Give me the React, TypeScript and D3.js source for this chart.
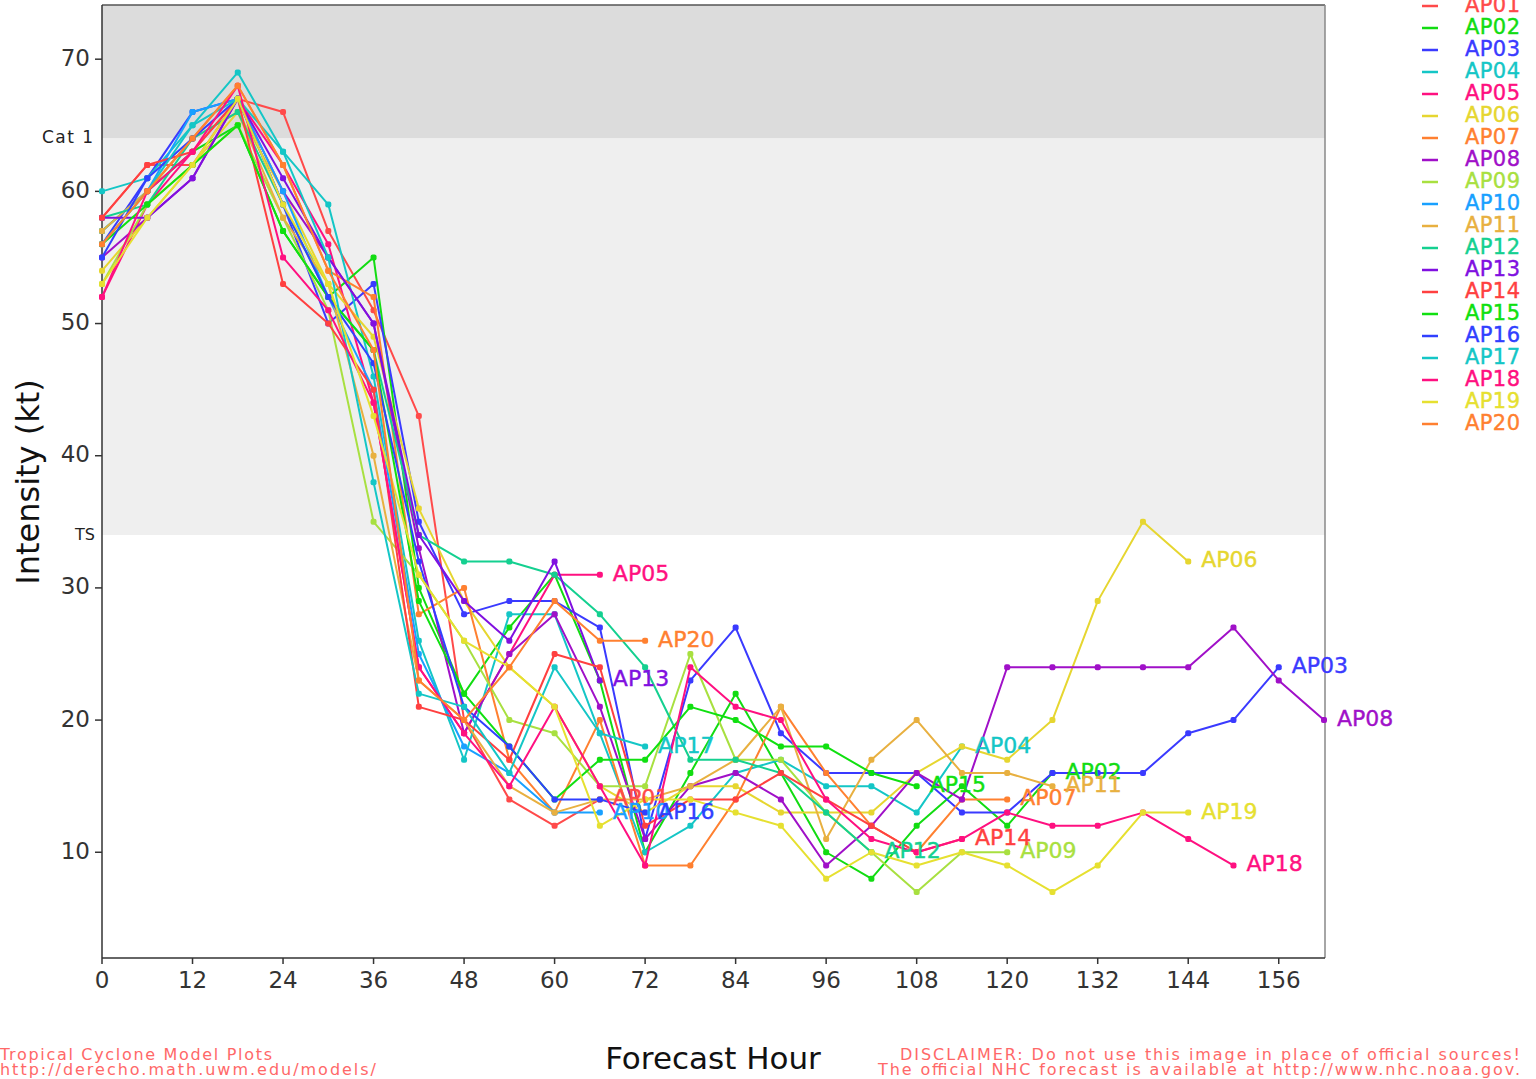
import React from 'react';
import * as d3 from 'd3';

const hoursTicks = [0, 12, 24, 36, 48, 60, 72, 84, 96, 108, 120, 132, 144, 156];
const intensityTicks = [10, 20, 30, 40, 50, 60, 70];

const modelNames = ['AP01', 'AP02', 'AP03', 'AP04', 'AP05', 'AP06', 'AP07', 'AP08', 'AP09', 'AP10',
  'AP11', 'AP12', 'AP13', 'AP14', 'AP15', 'AP16', 'AP17', 'AP18', 'AP19', 'AP20'];

const modelColors = ['#ff4a4a', '#12dc12', '#3a3aff', '#14c6c6', '#ff1080', '#e6d630', '#ff8030', '#a010c8',
  '#a8e040', '#18a0ff', '#e8b040', '#14d090', '#8010e0', '#ff4040', '#10e010', '#3040ff', '#14c6c6',
  '#ff1080', '#e6e030', '#ff8030'];

// intensity (kt) every 6 h starting at hour 0
const ap01 = [58, 62, 62, 67, 66, 57, 51, 43, 20, 14, 12, 14];
const ap02 = [57, 60, 63, 65, 57, 52, 55, 30, 22, 27, 31, 23, 10, 16, 22, 16, 10, 8, 12, 15, 12, 16];
const ap03 = [56, 61, 66, 67, 59, 50, 53, 35, 28, 29, 29, 27, 11, 23, 27, 19, 16, 16, 16, 13, 13, 16, 16, 16, 19, 20, 24];
const ap04 = [60, 61, 65, 69, 63, 59, 46, 26, 17, 28, 28, 19, 10, 12, 16, 17, 15, 15, 13, 18];
const ap05 = [52, 59, 63, 67, 62, 56, 44, 24, 19, 25, 31, 31];
const ap06 = [54, 58, 62, 66, 60, 53, 49, 36, 29, 24, 21, 15, 13, 15, 15, 13, 13, 13, 16, 18, 17, 20, 29, 35, 32];
const ap07 = [56, 60, 64, 68, 62, 54, 52, 28, 30, 17, 13, 20, 9, 9, 14, 21, 16, 12, 10, 14, 14];
const ap08 = [55, 58, 61, 67, 60, 55, 50, 33, 19, 25, 28, 21, 11, 15, 16, 14, 9, 12, 16, 14, 24, 24, 24, 24, 24, 27, 23, 20];
const ap09 = [53, 59, 62, 65, 58, 51, 35, 31, 26, 20, 19, 15, 15, 25, 17, 17, 13, 10, 7, 10, 10];
const ap10 = [57, 60, 66, 67, 60, 52, 45, 25, 18, 16, 13, 13];
const ap11 = [57, 60, 64, 66, 58, 53, 40, 23, 20, 15, 13, 14, 14, 15, 17, 21, 11, 17, 20, 16, 16, 15];
const ap12 = [58, 59, 64, 66, 59, 52, 48, 34, 32, 32, 31, 28, 24, 17, 17, 16, 13, 10];
const ap13 = [58, 58, 61, 67, 61, 55, 50, 34, 29, 26, 32, 23];
const ap14 = [58, 62, 63, 67, 53, 50, 45, 21, 20, 17, 25, 24, 12, 14, 14, 16, 14, 12, 10, 11];
const ap15 = [56, 59, 62, 65, 57, 52, 48, 29, 22, 18, 14, 17, 17, 21, 20, 18, 18, 16, 15];
const ap16 = [55, 61, 64, 67, 59, 52, 47, 32, 21, 18, 14, 14, 13];
const ap17 = [56, 60, 65, 67, 63, 55, 38, 22, 21, 16, 24, 19, 18];
const ap18 = [52, 60, 63, 68, 55, 51, 44, 24, 19, 15, 21, 15, 9, 24, 21, 20, 14, 11, 10, 11, 13, 12, 12, 13, 11, 9];
const ap19 = [53, 58, 62, 67, 59, 53, 43, 31, 26, 24, 21, 12, 14, 14, 13, 12, 8, 10, 9, 10, 9, 7, 9, 13, 13];
const ap20 = [56, 60, 64, 68, 62, 54, 48, 23, 20, 24, 29, 26, 26];

const modelValues = [ap01, ap02, ap03, ap04, ap05, ap06, ap07, ap08, ap09, ap10,
  ap11, ap12, ap13, ap14, ap15, ap16, ap17, ap18, ap19, ap20];

const W = 1536;
const H = 1079;
const plot = { left: 102, right: 1325, top: 5, bottom: 958 };
const font = "'DejaVu Sans', sans-serif";

export default function App() {
  const x = d3.scaleLinear().domain([0, 162]).range([plot.left, plot.right - 1]);
  const y = d3.scaleLinear().domain([2, 74.1]).range([plot.bottom, plot.top]);
  const line = d3.line<[number, number]>().x(d => x(d[0])).y(d => y(d[1]));

  const series = modelNames.map((name, i) => ({
    name,
    color: modelColors[i],
    pts: modelValues[i].map((v, k) => [k * 6, v] as [number, number]),
  }));

  return (
    <svg width={W} height={H} style={{ position: 'absolute', left: 0, top: 0, background: '#fff' }}
      fontFamily={font}>
      {/* intensity bands */}
      <rect x={plot.left} y={plot.top} width={plot.right - plot.left} height={y(64) - plot.top} fill="#dcdcdc" />
      <rect x={plot.left} y={y(64)} width={plot.right - plot.left} height={y(34) - y(64)} fill="#efefef" />
      <text x={93} y={y(64)} fontSize={17} fill="#222" textAnchor="end" dominantBaseline="middle"
        textLength={51}>Cat  1</text>
      <text x={95} y={y(34)} fontSize={16} fill="#222" textAnchor="end" dominantBaseline="middle">TS</text>

      {/* frame */}
      <line x1={plot.left} x2={plot.right} y1={plot.top} y2={plot.top} stroke="#555" strokeWidth={1.5} />
      <line x1={plot.right} x2={plot.right} y1={plot.top} y2={plot.bottom} stroke="#888" strokeWidth={1.5} />
      <line x1={plot.left} x2={plot.right} y1={plot.bottom} y2={plot.bottom} stroke="#333" strokeWidth={1.5} />
      <line x1={plot.left} x2={plot.left} y1={plot.top} y2={plot.bottom} stroke="#333" strokeWidth={1.5} />

      {hoursTicks.map(h => (
        <g key={'xt' + h}>
          <line x1={x(h)} x2={x(h)} y1={plot.bottom} y2={plot.bottom + 6} stroke="#333" strokeWidth={1.5} />
          <text x={x(h)} y={plot.bottom + 23} fontSize={23} fill="#333" textAnchor="middle"
            dominantBaseline="middle">{h}</text>
        </g>
      ))}
      {intensityTicks.map(v => (
        <g key={'yt' + v}>
          <line x1={plot.left - 7} x2={plot.left} y1={y(v)} y2={y(v)} stroke="#333" strokeWidth={1.5} />
          <text x={plot.left - 12} y={y(v)} fontSize={23} fill="#333" textAnchor="end"
            dominantBaseline="middle">{v}</text>
        </g>
      ))}

      <text transform={`translate(30,${482}) rotate(-90)`} fontSize={32} fill="#111" textAnchor="middle"
        dominantBaseline="middle">Intensity (kt)</text>
      <text x={713} y={1060} fontSize={31} fill="#111" textAnchor="middle" dominantBaseline="middle">Forecast Hour</text>

      {/* model tracks */}
      {series.map(s => (
        <g key={s.name}>
          <path d={line(s.pts) || ''} fill="none" stroke={s.color} strokeWidth={2} strokeLinejoin="round" />
          {s.pts.map(p => (
            <rect key={p[0]} x={x(p[0]) - 3} y={y(p[1]) - 3} width={6} height={6} rx={2} fill={s.color} />
          ))}
        </g>
      ))}
      {series.map(s => {
        const last = s.pts[s.pts.length - 1];
        return (
          <text key={'lab' + s.name} x={x(last[0]) + 13} y={y(last[1])} fontSize={22} fill={s.color}
            dominantBaseline="middle" stroke={s.color} strokeWidth={0.4}>{s.name}</text>
        );
      })}

      {/* legend */}
      {series.map((s, i) => (
        <g key={'lg' + s.name}>
          <line x1={1422} x2={1438} y1={6 + i * 22} y2={6 + i * 22} stroke={s.color} strokeWidth={2.5} />
          <text x={1465} y={6 + i * 22} fontSize={21} fill={s.color} dominantBaseline="middle"
            stroke={s.color} strokeWidth={0.4} textLength={55}>{s.name}</text>
        </g>
      ))}

      {/* footer */}
      <g fontSize={16} fill="#ff6868" fontFamily="'DejaVu Sans', sans-serif">
        <text x={0} y={1060} textLength={272}>Tropical Cyclone Model Plots</text>
        <text x={0} y={1075} textLength={376}>http://derecho.math.uwm.edu/models/</text>
        <text x={900} y={1060} textLength={620}>DISCLAIMER: Do not use this image in place of official sources!</text>
        <text x={878} y={1075} textLength={642}>The official NHC forecast is available at http://www.nhc.noaa.gov.</text>
      </g>
    </svg>
  );
}
